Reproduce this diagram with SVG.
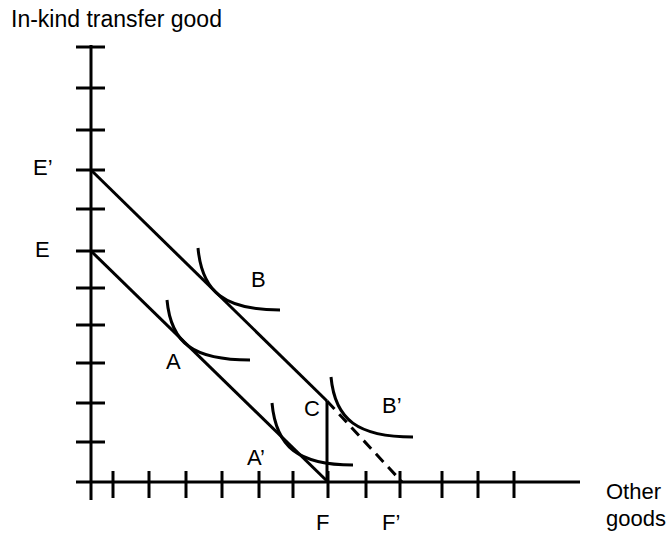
<svg xmlns="http://www.w3.org/2000/svg" width="668" height="536" viewBox="0 0 668 536">
<style>
.ln{stroke:#000;stroke-width:3;fill:none;stroke-linecap:butt}
.crv{stroke:#000;stroke-width:3;fill:none}
.dash{stroke:#000;stroke-width:3;fill:none;stroke-dasharray:11,7}
text{font-family:"Liberation Sans",Arial,sans-serif;font-size:22px;fill:#000}
</style>
<rect width="668" height="536" fill="#fff"/>
<g id="axes">
<line class="ln" x1="91" y1="45" x2="91" y2="500"/>
<line class="ln" x1="76" y1="482" x2="580" y2="482"/>
<g id="yticks">
<line class="ln" x1="76" y1="47" x2="105" y2="47"/>
<line class="ln" x1="76" y1="88" x2="105" y2="88"/>
<line class="ln" x1="76" y1="130" x2="105" y2="130"/>
<line class="ln" x1="76" y1="170" x2="105" y2="170"/>
<line class="ln" x1="76" y1="209" x2="105" y2="209"/>
<line class="ln" x1="76" y1="251" x2="105" y2="251"/>
<line class="ln" x1="76" y1="288" x2="105" y2="288"/>
<line class="ln" x1="76" y1="325" x2="105" y2="325"/>
<line class="ln" x1="76" y1="363" x2="105" y2="363"/>
<line class="ln" x1="76" y1="403" x2="105" y2="403"/>
<line class="ln" x1="76" y1="442" x2="105" y2="442"/>
</g>
<g id="xticks">
<line class="ln" x1="113" y1="471" x2="113" y2="498"/>
<line class="ln" x1="149" y1="471" x2="149" y2="498"/>
<line class="ln" x1="186" y1="471" x2="186" y2="498"/>
<line class="ln" x1="222" y1="471" x2="222" y2="498"/>
<line class="ln" x1="259" y1="471" x2="259" y2="498"/>
<line class="ln" x1="293" y1="471" x2="293" y2="498"/>
<line class="ln" x1="328" y1="471" x2="328" y2="498"/>
<line class="ln" x1="366" y1="471" x2="366" y2="498"/>
<line class="ln" x1="400" y1="471" x2="400" y2="498"/>
<line class="ln" x1="442" y1="471" x2="442" y2="498"/>
<line class="ln" x1="478" y1="471" x2="478" y2="498"/>
<line class="ln" x1="514" y1="471" x2="514" y2="498"/>
</g>
</g>
<g id="connectors">
<line class="ln" x1="91" y1="170" x2="327" y2="401"/>
<line class="ln" x1="91" y1="251" x2="328" y2="482"/>
<line class="ln" x1="327" y1="401" x2="327" y2="482"/>
<line class="dash" x1="327" y1="401" x2="402" y2="482"/>
</g>
<g id="curve-B"><path class="crv" d="M198,248 C202,292 224,310 280,310"/></g>
<g id="curve-A"><path class="crv" d="M167,300 C171,344 194,360 250,360"/></g>
<g id="curve-Ap"><path class="crv" d="M272,403 C276,447 298,465 353,465"/></g>
<g id="curve-Bp"><path class="crv" d="M331,377 C335,420 358,437 413,437"/></g>
<g id="labels">
<text x="11" y="27" style="font-size:23px">In-kind transfer good</text>
<text x="33" y="175">E’</text>
<text x="35" y="257">E</text>
<text x="251" y="287">B</text>
<text x="166" y="369">A</text>
<text x="304" y="416">C</text>
<text x="382" y="413">B’</text>
<text x="247" y="465">A’</text>
<text x="316" y="530">F</text>
<text x="382" y="530">F’</text>
<text x="606" y="499">Other</text>
<text x="606" y="526">goods</text>
</g>
</svg>
